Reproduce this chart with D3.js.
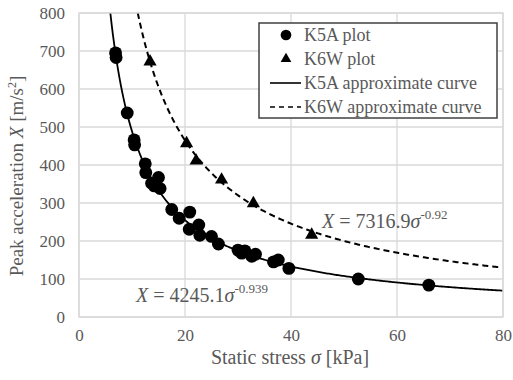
<!DOCTYPE html>
<head lang="en">
<meta charset="utf-8">
<title>Peak acceleration vs static stress</title>
<style>
body { margin:0; background:#fff; }
svg text { font-family:"Times New Roman","Liberation Serif",Tinos,"Noto Serif","DejaVu Serif","FreeSerif",serif; fill:#595959; }
</style>
<script src="https://cdn.jsdelivr.net/npm/d3@7"></script>
</head>
<body>
<script>
// K5A measured points [stress kPa, acceleration m/s2]
var k5aPts = [[6.9,695],[7.0,683],[9.1,537],[10.4,466],[10.5,453],[12.5,403],[12.6,380],
              [13.7,352],[14.2,345],[15.0,367],[15.3,338],[17.5,283],[18.9,260],[20.9,276],
              [20.8,231],[22.6,242],[22.8,215],[25.0,212],[26.3,192],[30.0,176],[31.3,174],
              [30.7,168],[32.6,160],[33.3,165],[36.7,145],[37.6,150],[39.6,128],[52.7,100],[66.0,84]];
// K6W measured points
var k6wPts = [[13.4,672],[20.3,457],[22.1,411],[26.9,361],[32.9,299],[43.9,216]];
// power fits X = a * s^b
var k5aFit = {a:4245.1, b:-0.939};
var k6wFit = {a:7316.9, b:-0.92};
var xTicks = [0,20,40,60,80];
var yTicks = [0,100,200,300,400,500,600,700,800];
var legendItems = ["K5A plot","K6W plot","K5A approximate curve","K6W approximate curve"];

var width = 513, height = 380;
var pLeft = 79, pRight = 503, pTop = 13, pBottom = 317;

var svg = d3.select("body").append("svg")
    .attr("width", width)
    .attr("height", height);

var x = d3.scaleLinear().domain([0,80]).range([pLeft,pRight]);
var y = d3.scaleLinear().domain([0,800]).range([pBottom,pTop]);

// grid
svg.selectAll("line.gx").data(xTicks).enter().append("line")
    .attr("x1", function(d) { return x(d); }).attr("x2", function(d) { return x(d); })
    .attr("y1", pTop).attr("y2", pBottom)
    .style("stroke", "#d9d9d9").style("stroke-width", "1.3px");
svg.selectAll("line.gy").data(yTicks).enter().append("line")
    .attr("x1", pLeft).attr("x2", pRight)
    .attr("y1", function(d) { return y(d); }).attr("y2", function(d) { return y(d); })
    .style("stroke", "#d9d9d9").style("stroke-width", "1.3px");

// tick labels
var xAxis = svg.append("g").attr("transform", "translate(0," + pBottom + ")")
    .call(d3.axisBottom(x).tickValues(xTicks).tickSize(0).tickPadding(12));
var yAxis = svg.append("g").attr("transform", "translate(" + pLeft + ",0)")
    .call(d3.axisLeft(y).tickValues(yTicks).tickSize(0).tickPadding(14));
[xAxis, yAxis].forEach(function(g) {
    g.attr("font-family", null).attr("font-size", null);
    g.select(".domain").remove();
    g.selectAll("text").style("font-size", "17px").style("fill", "#595959");
});

// curves
function fitLine(f, x0) {
    var pts = [];
    for (var s = x0; s <= 80; s += 0.25) pts.push([s, f.a * Math.pow(s, f.b)]);
    return d3.line().x(function(d) { return x(d[0]); }).y(function(d) { return y(d[1]); })(pts);
}
function startX(f) { return Math.pow(800 / f.a, 1 / f.b); }

svg.append("path").attr("d", fitLine(k5aFit, startX(k5aFit)))
    .style("fill", "none").style("stroke", "#000").style("stroke-width", "1.8px");
svg.append("path").attr("d", fitLine(k6wFit, startX(k6wFit)))
    .style("fill", "none").style("stroke", "#000").style("stroke-width", "2px")
    .style("stroke-dasharray", "6,4");

// markers
var circ = d3.symbol().type(d3.symbolCircle).size(130);
var tri = d3.symbol().type(d3.symbolTriangle).size(75);
svg.selectAll("path.k5a").data(k5aPts).enter().append("path")
    .attr("d", circ)
    .attr("transform", function(d) { return "translate(" + x(d[0]) + "," + y(d[1]) + ")"; })
    .style("fill", "#000");
svg.selectAll("path.k6w").data(k6wPts).enter().append("path")
    .attr("d", tri)
    .attr("transform", function(d) { return "translate(" + x(d[0]) + "," + y(d[1]) + ")"; })
    .style("fill", "#000");

// plot border
svg.append("rect").attr("x", pLeft).attr("y", pTop)
    .attr("width", pRight - pLeft).attr("height", pBottom - pTop)
    .style("fill", "none").style("stroke", "#d9d9d9").style("stroke-width", "1.3px");

// legend
var lg = svg.append("g");
lg.append("rect").attr("x", 259).attr("y", 23).attr("width", 238).attr("height", 95)
    .style("fill", "#fff").style("stroke", "#404040").style("stroke-width", "1.5px");
legendItems.forEach(function(t, i) {
    var yy = 35 + i * 24;
    if (i == 0) lg.append("path").attr("d", d3.symbol().type(d3.symbolCircle).size(90))
        .attr("transform", "translate(286," + yy + ")").style("fill", "#000");
    if (i == 1) lg.append("path").attr("d", d3.symbol().type(d3.symbolTriangle).size(50))
        .attr("transform", "translate(286," + yy + ")").style("fill", "#000");
    if (i >= 2) lg.append("line").attr("x1", 270).attr("x2", 301).attr("y1", yy).attr("y2", yy)
        .style("stroke", "#000").style("stroke-width", "1.6px")
        .style("stroke-dasharray", i == 3 ? "5,4" : null);
    lg.append("text").attr("x", 304).attr("y", yy + 6).text(t).style("font-size", "18px");
});

// equations
function eq(px, py, a, b) {
    var t = svg.append("text").attr("x", px).attr("y", py).style("font-size", "20px");
    t.append("tspan").text("X").style("font-style", "italic");
    t.append("tspan").text(" = " + a);
    t.append("tspan").text("σ").style("font-style", "italic");
    t.append("tspan").text(b).attr("dy", -9).style("font-size", "13px");
}
eq(322, 228, "7316.9", "-0.92");
eq(136, 302, "4245.1", "-0.939");

// axis titles
var xt = svg.append("text").attr("x", 290).attr("y", 364).attr("text-anchor", "middle")
    .style("font-size", "20px");
xt.append("tspan").text("Static stress ");
xt.append("tspan").text("σ").style("font-style", "italic");
xt.append("tspan").text(" [kPa]");

var yt = svg.append("text").attr("transform", "translate(23,176) rotate(-90)")
    .attr("text-anchor", "middle").style("font-size", "19px");
yt.append("tspan").text("Peak acceleration ");
yt.append("tspan").text("X").style("font-style", "italic");
yt.append("tspan").text(" [m/s");
yt.append("tspan").text("2").attr("dy", -7).style("font-size", "12px");
yt.append("tspan").text("]").attr("dy", 7);
</script>
</body>
</html>
